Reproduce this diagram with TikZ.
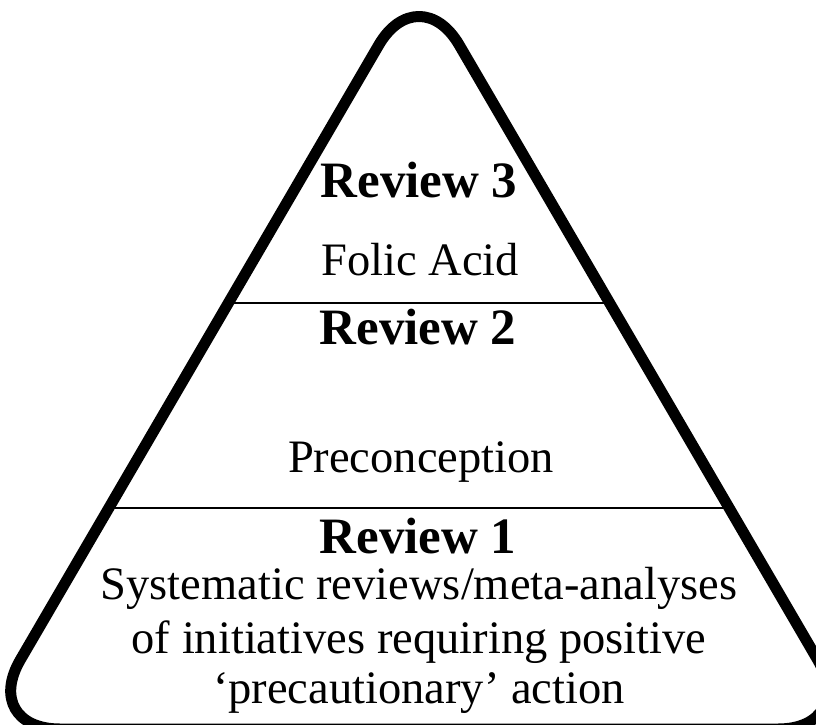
\documentclass[tikz,border=0pt]{standalone}
\usepackage{fontspec}
\setmainfont{Liberation Serif}
\tikzset{
  outline/.style={line width=11pt, line join=round, rounded corners=80pt},
  divider/.style={line width=2pt},
  head/.style={anchor=base, inner sep=0pt, font=\fontsize{51}{55}\selectfont\bfseries},
  body/.style={anchor=base, inner sep=0pt, font=\fontsize{46.5}{52}\selectfont}
}
\begin{document}
\begin{tikzpicture}[x=1pt,y=-1pt]
\useasboundingbox (0,0) rectangle (816,725);
\fill[white] (0,0) rectangle (816,725);
% dividers
\coordinate (d1l) at (229,303);
\coordinate (d1r) at (609,303);
\coordinate (d2l) at (109,508);
\coordinate (d2r) at (729,508);
\draw[divider] (d1l) -- (d1r);
\draw[divider] (d2l) -- (d2r);
% outline
\coordinate (bm) at (419,729);
\coordinate (br) at (858,729);
\coordinate (ap) at (419,-24);
\coordinate (bl) at (-20,729);
\draw[outline] (bm) -- (br) -- (ap) -- (bl) -- cycle;
% texts
\node[head] (r3) at (419,197) {Review 3};
\node[body] (fa) at (420,275) {Folic Acid};
\node[head] (r2) at (418,344) {Review 2};
\node[body] (pc) at (421,472) {Preconception};
\node[head] (r1) at (418,553) {Review 1};
\node[body] (l1) at (419,599) {Systematic reviews/meta-analyses};
\node[body] (l2) at (419,653) {of initiatives requiring positive};
\node[body] (l3) at (419,703) {‘precautionary’ action};
\end{tikzpicture}
\end{document}
